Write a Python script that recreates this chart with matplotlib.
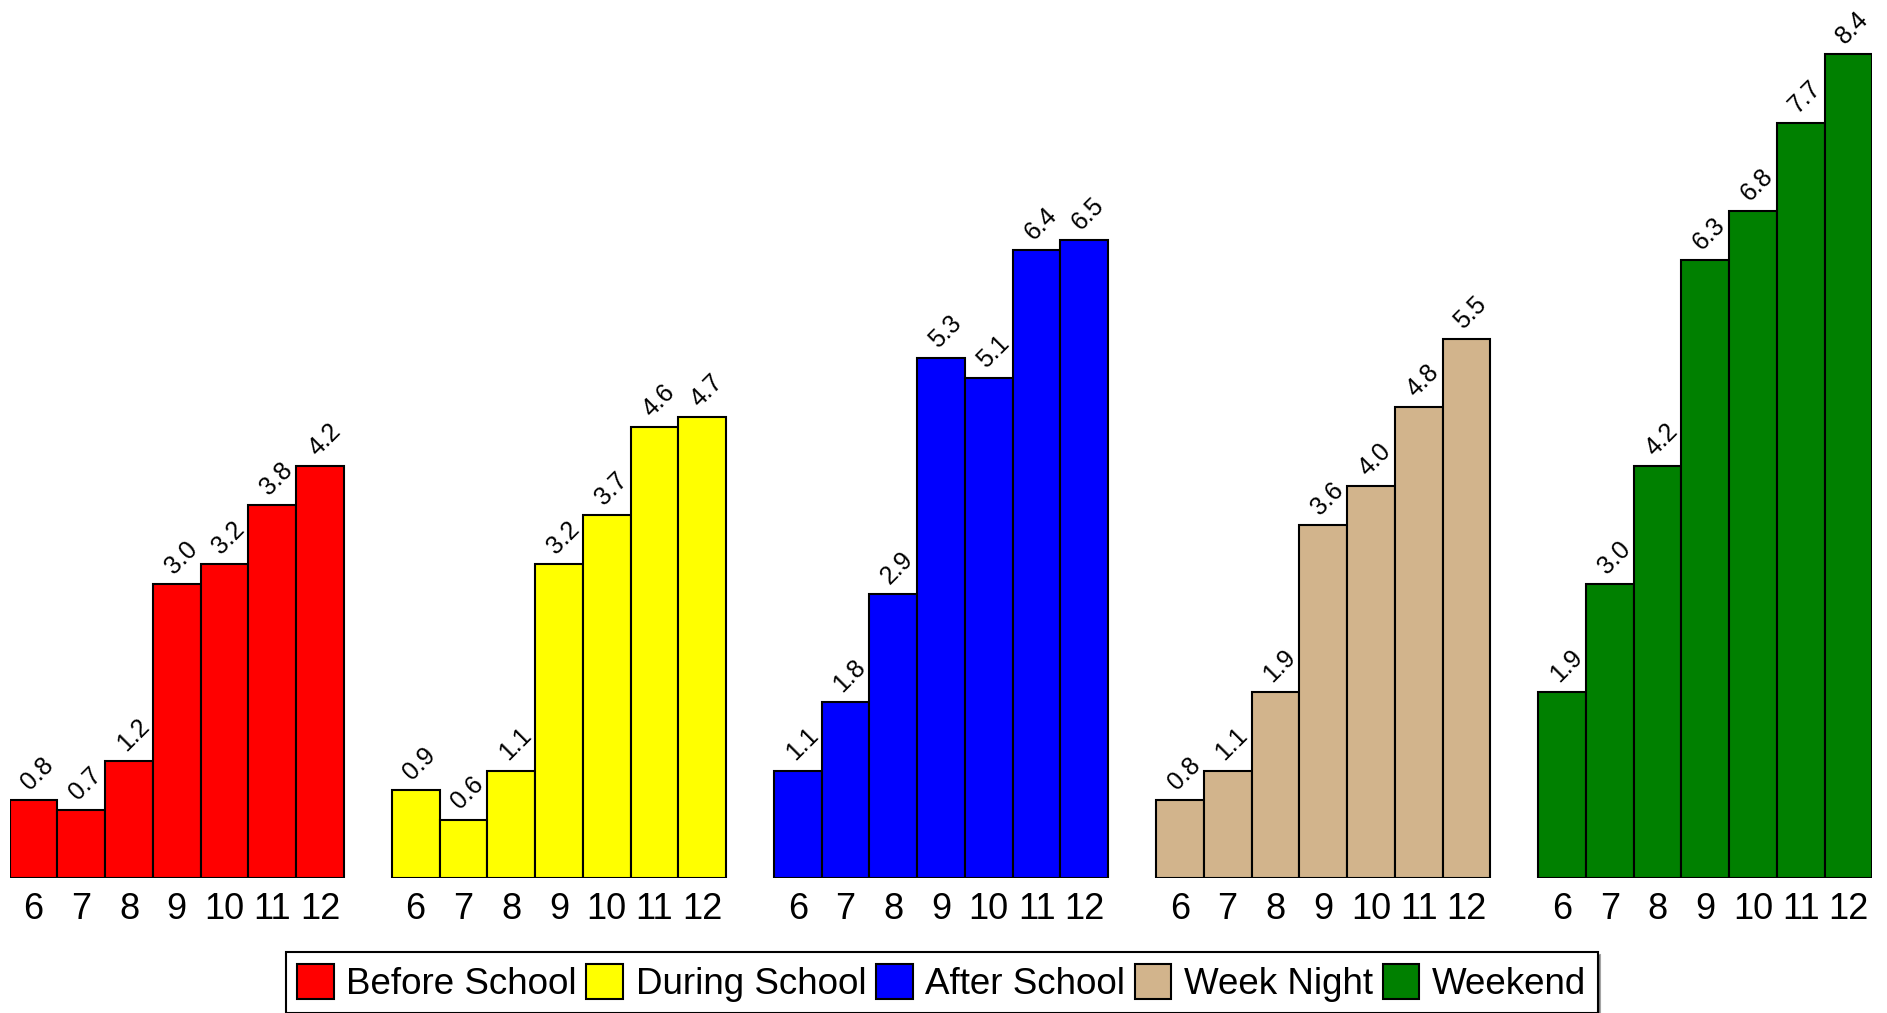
import matplotlib
matplotlib.use("Agg")
import matplotlib.pyplot as plt
import numpy as np

grades = ["6", "7", "8", "9", "10", "11", "12"]
series_names = ["Before School", "During School", "After School", "Week Night", "Weekend"]
before_school = [0.8, 0.7, 1.2, 3.0, 3.2, 3.8, 4.2]
during_school = [0.9, 0.6, 1.1, 3.2, 3.7, 4.6, 4.7]
after_school = [1.1, 1.8, 2.9, 5.3, 5.1, 6.4, 6.5]
week_night = [0.8, 1.1, 1.9, 3.6, 4.0, 4.8, 5.5]
weekend = [1.9, 3.0, 4.2, 6.3, 6.8, 7.7, 8.4]
colors = ["#FF0000", "#FFFF00", "#0000FF", "#D2B48C", "#008000"]

plt.rcParams['font.family'] = ['Liberation Sans', 'DejaVu Sans']

fig = plt.figure(figsize=(18.87, 10.13), dpi=100)
ax = fig.add_axes([0.0051, 0.1328, 0.9872, 0.8672])

all_series = [before_school, during_school, after_school, week_night, weekend]
n = len(grades)
tick_pos = []
tick_lab = []
handles = []
for g, (vals, col, name) in enumerate(zip(all_series, colors, series_names)):
    x = np.arange(n) + g * (n + 1)
    bars = ax.bar(x, vals, width=1.0, align='edge', color=col, edgecolor='black',
                  linewidth=1.5, label=name)
    handles.append(bars)
    for xi, v in zip(x, vals):
        ax.annotate(f"{v:.1f}", (xi + 0.5, v), xytext=(3, 4), textcoords='offset points',
                    ha='center', va='bottom', rotation=45, fontsize=18)
    tick_pos.extend(x + 0.5)
    tick_lab.extend(grades)

ax.set_xlim(0, 5 * n + 4)
ax.set_ylim(0, 8.95)
ax.set_xticks(tick_pos)
ax.set_xticklabels(tick_lab, fontsize=26)
ax.tick_params(axis='x', length=0, pad=10)
ax.set_yticks([])
for s in ax.spines.values():
    s.set_visible(False)

leg = fig.legend(handles=handles, labels=series_names, loc='center',
                 bbox_to_anchor=(0.499, 0.030), ncol=5, fontsize=26.5,
                 frameon=True, fancybox=False, shadow=True, edgecolor='black',
                 handlelength=1.0, handleheight=1.1, handletextpad=0.35,
                 columnspacing=0.25, borderpad=0.3, borderaxespad=0)
leg.get_frame().set_linewidth(1.5)

fig.savefig("out.png", dpi=100)
